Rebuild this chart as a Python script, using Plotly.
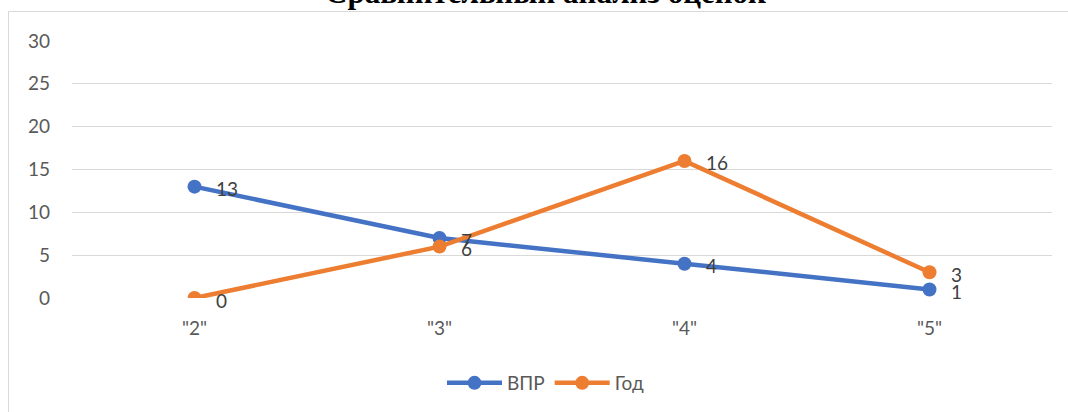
import plotly.graph_objects as go

categories = ['"2"', '"3"', '"4"', '"5"']
vpr = [13, 7, 4, 1]
god = [0, 6, 16, 3]
series_names = ["ВПР", "Год"]
colors = ["#4472C4", "#ED7D31"]
title_text = "Сравнительный анализ оценок"
y_ticks = [0, 5, 10, 15, 20, 25, 30]

W, H = 1068, 412
L, R, T, B = 72, 16, 41, 114
ph = H - T - B
pw = W - L - R

font_family = "Lato, 'Open Sans', sans-serif"
fig = go.Figure()
for name, vals, c in zip(series_names, [vpr, god], colors):
    fig.add_trace(go.Scatter(
        x=categories, y=vals, name=name, mode="lines+markers",
        line=dict(color=c, width=4.5),
        marker=dict(color=c, size=14),
    ))

annotations = []
for vals in [vpr, god]:
    for cat, v in zip(categories, vals):
        annotations.append(dict(
            x=cat, y=v, xref="x", yref="y", text=str(v), showarrow=False,
            xanchor="left", yanchor="middle", xshift=19, yshift=-2,
            font=dict(family=font_family, size=19, color="#404040"),
        ))

def py(pix):
    return (H - B - pix) / ph

def px(pix):
    return (pix - L) / pw

annotations.append(dict(
    x=px(545), y=py(-8), xref="paper", yref="paper", text="<b>" + title_text + "</b>",
    showarrow=False, xanchor="center", yanchor="middle",
    font=dict(family="'Liberation Serif', 'Times New Roman', serif", size=31, color="#000000"),
))

fig.add_shape(type="rect", xref="paper", yref="paper",
              x0=px(8.5), x1=px(1080), y0=py(11.5), y1=py(430),
              line=dict(color="#D9D9D9", width=1), fillcolor="rgba(0,0,0,0)", layer="below")

fig.update_layout(
    width=W, height=H,
    margin=dict(l=L, r=R, t=T, b=B, autoexpand=False),
    paper_bgcolor="white", plot_bgcolor="white",
    font=dict(family=font_family, size=19, color="#595959"),
    showlegend=True,
    legend=dict(orientation="h", x=px(546), xanchor="center", y=py(383), yanchor="middle",
                font=dict(family=font_family, size=19, color="#595959"),
                itemwidth=55, traceorder="normal"),
    annotations=annotations,
    xaxis=dict(type="category", range=[-0.5, 3.5], showgrid=False, zeroline=False,
               showline=False, ticks="", ticklabelstandoff=17,
               tickfont=dict(family=font_family, size=19, color="#595959")),
    yaxis=dict(range=[0, 30], tickvals=y_ticks, showgrid=True, gridcolor="#D9D9D9",
               gridwidth=1, zeroline=False, showline=False, ticks="",
               ticklabelstandoff=21,
               tickfont=dict(family=font_family, size=19, color="#595959")),
)

fig.write_html("out.html", config={"displayModeBar": False},
               post_script="document.body.style.margin='0';document.body.style.overflow='hidden';")
